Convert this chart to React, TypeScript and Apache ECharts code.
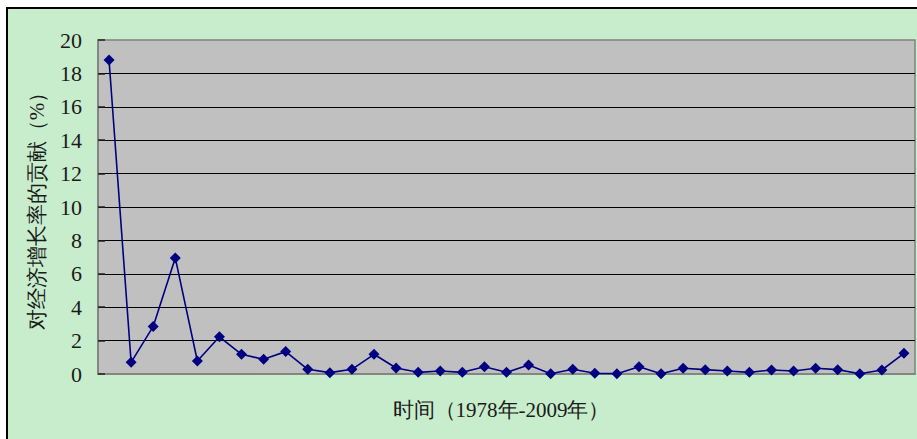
import React, { useEffect, useRef } from "react";
import * as echarts from "echarts";

const categories: string[] = [
  "1", "2", "3", "4", "5", "6", "7", "8", "9", "10",
  "11", "12", "13", "14", "15", "16", "17", "18", "19", "20",
  "21", "22", "23", "24", "25", "26", "27", "28", "29", "30",
  "31", "32", "33", "34", "35", "36", "37",
];

const contribution: number[] = [
  18.8, 0.7, 2.85, 6.95, 0.78, 2.23, 1.18, 0.88, 1.34, 0.28,
  0.08, 0.28, 1.18, 0.36, 0.1, 0.18, 0.1, 0.44, 0.1, 0.54,
  0.02, 0.28, 0.04, 0.02, 0.44, 0.02, 0.34, 0.26, 0.18, 0.1,
  0.24, 0.18, 0.34, 0.26, 0.02, 0.24, 1.24,
];

const yTitle = "对经济增长率的贡献（%）";
const xTitle = "时间（1978年-2009年）";

const FONT = "Liberation Serif";

export default function App() {
  const ref = useRef<HTMLDivElement>(null);
  useEffect(() => {
    if (!ref.current) return;
    const chart = echarts.init(ref.current, undefined, { renderer: "svg" });
    chart.setOption({
      animation: false,
      backgroundColor: "#ffffff",
      graphic: [
        {
          type: "rect",
          z: -100,
          silent: true,
          shape: { x: 7, y: 8, width: 930, height: 450 },
          style: { fill: "#C8EDCC", stroke: "#000000", lineWidth: 2 },
        },
        {
          type: "text",
          x: 37,
          y: 206,
          rotation: Math.PI / 2,
          style: {
            text: yTitle,
            fill: "#1a1a1a",
            fontFamily: FONT,
            fontSize: 21,
            textAlign: "center",
            textVerticalAlign: "middle",
          },
        },
        {
          type: "text",
          x: 501,
          y: 410,
          style: {
            text: xTitle,
            fill: "#1a1a1a",
            fontFamily: FONT,
            fontSize: 21,
            textAlign: "center",
            textVerticalAlign: "middle",
          },
        },
      ],
      grid: {
        left: 98,
        top: 40,
        right: 2,
        bottom: 65,
        show: true,
        backgroundColor: "#C0C0C0",
        borderColor: "#808080",
        borderWidth: 1.5,
      },
      xAxis: {
        type: "category",
        data: categories,
        boundaryGap: true,
        axisLabel: { show: false },
        axisTick: { show: false },
        axisLine: { show: true, lineStyle: { color: "#808080", width: 1.5 } },
        splitLine: { show: false },
      },
      yAxis: {
        type: "value",
        min: 0,
        max: 20,
        interval: 2,
        axisLine: { show: true, lineStyle: { color: "#808080", width: 1.5 } },
        axisTick: { show: true, inside: true, length: 7, lineStyle: { color: "#222", width: 1.5 } },
        axisLabel: {
          color: "#1a1a1a",
          fontFamily: FONT,
          fontSize: 22,
          margin: 16,
        },
        splitLine: {
          show: true,
          showMinLine: false,
          showMaxLine: false,
          lineStyle: { color: "#000000", width: 1 },
        },
      },
      series: [
        {
          type: "line",
          data: contribution,
          symbol: "diamond",
          symbolSize: 11,
          lineStyle: { color: "#000080", width: 1.6 },
          itemStyle: { color: "#000080" },
        },
      ],
    });
    return () => chart.dispose();
  }, []);
  return (
    <div
      ref={ref}
      style={{ position: "absolute", left: 0, top: 0, width: 917, height: 439 }}
    />
  );
}
